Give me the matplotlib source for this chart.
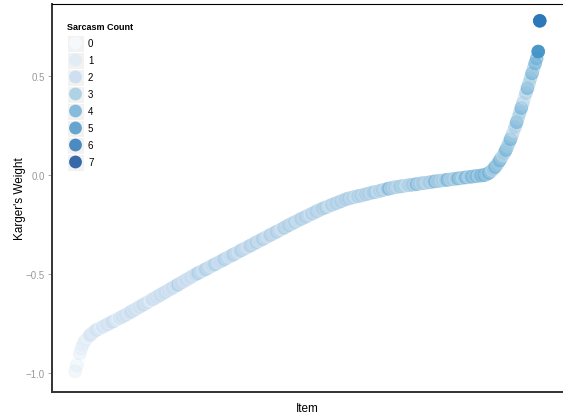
import matplotlib
matplotlib.use("Agg")
import matplotlib.pyplot as plt
from matplotlib.colors import to_rgba
from matplotlib.patches import Rectangle
import numpy as np

plt.rcParams["font.family"] = ["Liberation Sans", "DejaVu Sans"]

# Karger's weight per item, sorted ascending
weights = [
    -0.99, -0.96, -0.93, -0.90, -0.875, -0.855,
    -0.84, -0.83, -0.82, -0.812, -0.805, -0.798, -0.792,
    -0.785, -0.781, -0.777, -0.773, -0.769, -0.765, -0.761, -0.757, -0.753, -0.749,
    -0.745, -0.741, -0.737, -0.733, -0.729, -0.725, -0.721, -0.717, -0.713, -0.709,
    -0.705, -0.700, -0.696, -0.691, -0.687, -0.682, -0.678, -0.673, -0.669, -0.664,
    -0.660, -0.655, -0.651, -0.646, -0.642, -0.637, -0.633, -0.628, -0.624, -0.619,
    -0.615, -0.610, -0.606, -0.601, -0.597, -0.592, -0.588, -0.583, -0.579, -0.574,
    -0.570, -0.565, -0.561, -0.556, -0.552, -0.547, -0.543, -0.538, -0.534, -0.529,
    -0.525, -0.520, -0.516, -0.511, -0.507, -0.502, -0.498, -0.494,
    -0.490, -0.486, -0.482, -0.478, -0.474, -0.470, -0.465, -0.461, -0.457, -0.453,
    -0.449, -0.445, -0.441, -0.437, -0.433, -0.429, -0.424, -0.420, -0.416, -0.412,
    -0.408, -0.404, -0.400, -0.396, -0.392, -0.388, -0.383, -0.379, -0.375, -0.371,
    -0.367, -0.363, -0.359, -0.355, -0.351, -0.347, -0.342, -0.338, -0.334, -0.330,
    -0.326, -0.322, -0.318, -0.314, -0.310, -0.306, -0.301, -0.297, -0.293, -0.289,
    -0.285, -0.281, -0.277, -0.273, -0.269, -0.265, -0.260, -0.256, -0.252, -0.248,
    -0.244, -0.240, -0.236, -0.232,
    -0.228, -0.224, -0.220, -0.217, -0.213, -0.209, -0.205, -0.201, -0.198, -0.194,
    -0.190, -0.186, -0.182, -0.179, -0.175, -0.171,
    -0.168, -0.165, -0.162, -0.159, -0.155, -0.152, -0.149, -0.146, -0.143, -0.140,
    -0.137, -0.134, -0.131, -0.128, -0.124, -0.121,
    -0.119, -0.117, -0.115, -0.113, -0.111, -0.109, -0.107, -0.105, -0.104, -0.102,
    -0.100, -0.098, -0.096, -0.094, -0.092, -0.090, -0.088, -0.086, -0.085, -0.083,
    -0.081, -0.079, -0.077, -0.075, -0.073, -0.071, -0.069, -0.067, -0.066, -0.064,
    -0.062, -0.060,
    -0.059, -0.058, -0.057, -0.056, -0.054, -0.053, -0.052, -0.051, -0.050, -0.049,
    -0.048, -0.047, -0.046, -0.045, -0.043, -0.042, -0.041, -0.040, -0.039, -0.038,
    -0.037, -0.036, -0.035, -0.034, -0.032, -0.031, -0.030, -0.029, -0.028, -0.027,
    -0.026, -0.025,
    -0.024, -0.023, -0.022, -0.021, -0.020, -0.019, -0.018, -0.017, -0.016, -0.015,
    -0.014, -0.013, -0.012, -0.011, -0.010, -0.009, -0.008, -0.007, -0.006, -0.005,
    -0.004, -0.003, -0.002, -0.001, 0.000, 0.001,
    0.003, 0.007, 0.012, 0.018, 0.025, 0.033, 0.042, 0.052, 0.063, 0.075,
    0.088, 0.100, 0.113,
    0.128, 0.145, 0.163, 0.182, 0.202, 0.223, 0.245, 0.268, 0.292, 0.316,
    0.340, 0.365, 0.390, 0.415, 0.440, 0.465, 0.490, 0.515, 0.540, 0.565,
    0.590, 0.625,
    0.780,
]

# number of annotators who flagged each item as sarcastic
sarcasm = [
    1, 1, 0, 1, 1, 1, 1, 1, 0, 1, 2, 1, 1,
    1, 2, 1, 1, 0, 2, 1, 1, 2, 1,
    1, 2, 2, 1, 1, 0, 2, 1, 2, 1,
    2, 1, 1, 2, 2, 1, 2, 1, 1, 2,
    1, 2, 2, 1, 2, 1, 0, 2, 2, 1,
    2, 1, 2, 2, 1, 2, 2, 1, 2, 1,
    2, 2, 1, 2, 3, 1, 2, 2, 1, 2,
    2, 1, 2, 2, 1, 2, 2, 3,
    2, 2, 1, 2, 3, 2, 2, 1, 2, 2,
    3, 2, 1, 2, 2, 2, 3, 2, 2, 1,
    2, 2, 3, 2, 2, 1, 2, 3, 2, 2,
    2, 1, 2, 3, 2, 2, 2, 3, 1, 2,
    2, 3, 2, 2, 1, 2, 3, 2, 2, 2,
    3, 2, 2, 1, 2, 3, 2, 2, 3, 2,
    2, 2, 3, 1, 2, 2, 3, 2, 2, 3,
    2, 2, 1, 3, 2, 2, 3, 2, 2, 2,
    3, 2, 3, 2, 1, 2, 3, 2, 2, 3,
    2, 2, 3, 2, 2, 3,
    2, 3, 2, 2, 3, 1, 2, 3, 2, 3,
    2, 2, 3, 2, 3, 2, 2, 3, 3, 2,
    1, 3, 2, 3, 2, 2, 3, 4, 2, 3,
    2, 3, 2, 2, 3, 3, 2, 3, 1, 2,
    3, 2, 3, 3, 2, 4, 2, 3, 2, 3,
    3, 2, 2, 3, 3, 2, 3, 4, 2, 3,
    3, 2, 3, 2, 3, 4, 3, 2, 3, 3,
    2, 3, 4, 3, 3, 2, 3, 4, 3, 2,
    3, 4, 3, 3, 4, 2, 3, 4, 3, 4,
    3, 3, 4, 3, 2, 3, 4, 3, 3, 4,
    3, 2, 3, 4, 3, 3, 4, 3, 2, 3,
    4, 3, 3, 4, 3, 2, 3, 4, 3, 3,
    4, 3, 4, 4, 5,
    6,
]

counts = list(range(8))
blues = ["#F7FBFF", "#DEEBF7", "#C6DBEF", "#9ECAE1",
         "#6BAED6", "#4292C6", "#2171B5", "#084594"]
# opacity per count level: more flags -> more opaque
alphas = [0.3, 0.4, 0.45, 0.5, 0.6, 0.95, 0.95, 1.0]

W, H = 563, 414
fig = plt.figure(figsize=(W / 100, H / 100), dpi=100)
ax = fig.add_axes([52 / W, 1 - 393 / H, 1 - 52 / W, (393 - 5) / H])

n = len(weights)
items = np.arange(1, n + 1)
point_colors = [to_rgba(blues[c], alphas[c]) for c in sarcasm]
ax.scatter(items, weights, s=85, c=point_colors, edgecolors=point_colors,
           linewidths=0.6, zorder=3)

pad = 0.05 * (n - 1)
ax.set_xlim(1 - pad, n + pad)
ax.set_ylim(-1.095, 0.865)
ax.set_xticks([])
ax.set_yticks([-1.0, -0.5, 0.0, 0.5])
ax.set_yticklabels(["\u22121.0", "\u22120.5", "0.0", "0.5"])
ax.tick_params(axis="y", length=3, width=0.6, color="#999999",
               labelcolor="#999999", labelsize=7, pad=2)

ax.spines["right"].set_visible(False)
ax.spines["top"].set_linewidth(0.8)
ax.spines["top"].set_color("black")
for side in ("left", "bottom"):
    ax.spines[side].set_linewidth(1.4)
    ax.spines[side].set_color("#333333")

ax.set_xlabel("Item", fontsize=8.5, labelpad=7)
ax.set_ylabel("Karger's Weight", fontsize=8.5, labelpad=0)

# legend drawn in pixel coordinates over the panel
leg = fig.add_axes([0, 0, 1, 1], zorder=5)
leg.set_xlim(0, W)
leg.set_ylim(H, 0)
leg.axis("off")
leg.text(67, 28, "Sarcasm Count", fontsize=6.5, fontweight="bold",
         va="center", ha="left")
for k, c in enumerate(counts):
    cy = 44 + 17 * k
    leg.add_patch(Rectangle((67, cy - 8.5), 17, 17, facecolor="#F2F2F2",
                            edgecolor="white", linewidth=0.8))
    leg.scatter([75.5], [cy], s=85, color=blues[c], alpha=0.8,
                edgecolors="none")
    leg.text(88, cy, str(c), fontsize=7, va="center", ha="left")

fig.savefig("out.png", dpi=100)
